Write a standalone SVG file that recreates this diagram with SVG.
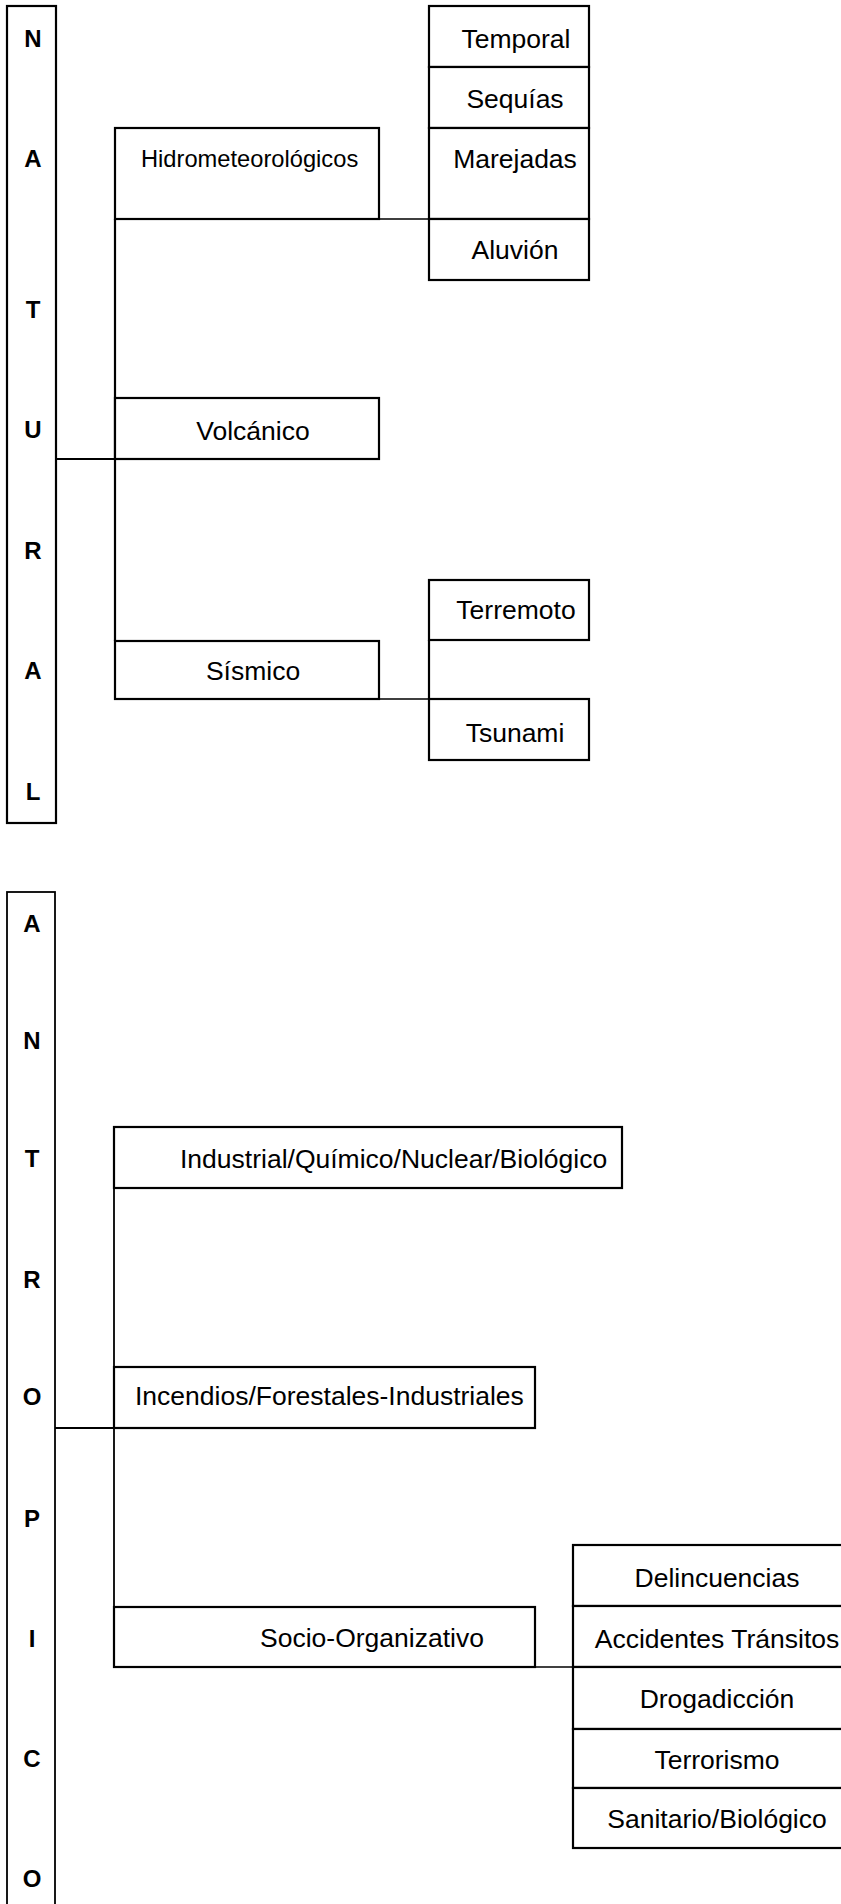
<svg xmlns="http://www.w3.org/2000/svg" width="841" height="1904" viewBox="0 0 841 1904">
<style>
rect{fill:#fff;stroke:#000;stroke-width:2.2}
.c{fill:none;stroke:#000;stroke-width:2.2}
.t{fill:none;stroke:#000;stroke-width:1.3}
.a{fill:none;stroke:#000;stroke-width:1.8}
text{font-family:"Liberation Sans",Arial,sans-serif;font-size:26.5px;fill:#000}
.m{text-anchor:middle}
.b{font-weight:bold;font-size:24px;text-anchor:middle}
.s{font-size:23.7px}
</style>
<rect x="0" y="0" width="841" height="1904" style="fill:#fff;stroke:none"/>
<g id="connectors">
<path class="c" d="M56 459H115M115 219V641"/>
<path class="t" d="M379 219H429M379 699H429"/>
<path class="c" d="M429 640V699"/>
<path class="c" d="M55 1428H114"/>
<path class="a" d="M114 1188V1367M114 1428V1607"/>
<path class="t" d="M535 1667H573"/>
</g>
<g id="natural">
<rect x="7" y="6" width="49" height="817"/>
<text class="b" x="33" y="47">N</text>
<text class="b" x="33" y="167">A</text>
<text class="b" x="33" y="318">T</text>
<text class="b" x="33" y="438">U</text>
<text class="b" x="33" y="559">R</text>
<text class="b" x="33" y="679">A</text>
<text class="b" x="33" y="800">L</text>
</g>
<g id="hidro">
<rect x="115" y="128" width="264" height="91"/>
<text class="s" x="141" y="167">Hidrometeorológicos</text>
</g>
<g id="temporal"><rect x="429" y="6" width="160" height="61"/><text class="m" x="516" y="48">Temporal</text></g>
<g id="sequias"><rect x="429" y="67" width="160" height="61"/><text class="m" x="515" y="108">Sequías</text></g>
<g id="marejadas"><rect x="429" y="128" width="160" height="91"/><text class="m" x="515" y="168">Marejadas</text></g>
<g id="aluvion"><rect x="429" y="219" width="160" height="61"/><text class="m" x="515" y="259">Aluvión</text></g>
<g id="volcanico"><rect x="115" y="398" width="264" height="61"/><text class="m" x="253" y="440">Volcánico</text></g>
<g id="sismico"><rect x="115" y="641" width="264" height="58"/><text class="m" x="253" y="680">Sísmico</text></g>
<g id="terremoto"><rect x="429" y="580" width="160" height="60"/><text class="m" x="516" y="619">Terremoto</text></g>
<g id="tsunami"><rect x="429" y="699" width="160" height="61"/><text class="m" x="515" y="742">Tsunami</text></g>
<g id="antropico">
<rect x="7" y="892" width="48" height="1030" style="stroke-width:1.8"/>
<text class="b" x="32" y="932">A</text>
<text class="b" x="32" y="1049">N</text>
<text class="b" x="32" y="1167">T</text>
<text class="b" x="32" y="1288">R</text>
<text class="b" x="32" y="1405">O</text>
<text class="b" x="32" y="1527">P</text>
<text class="b" x="32" y="1647">I</text>
<text class="b" x="32" y="1767">C</text>
<text class="b" x="32" y="1887">O</text>
</g>
<g id="industrial"><rect x="114" y="1127" width="508" height="61"/><text x="180" y="1168">Industrial/Químico/Nuclear/Biológico</text></g>
<g id="incendios"><rect x="114" y="1367" width="421" height="61"/><text x="135" y="1405">Incendios/Forestales-Industriales</text></g>
<g id="socio"><rect x="114" y="1607" width="421" height="60"/><text class="m" x="372" y="1647">Socio-Organizativo</text></g>
<g id="delincuencias"><rect x="573" y="1545" width="300" height="61"/><text class="m" x="717" y="1587">Delincuencias</text></g>
<g id="accidentes"><rect x="573" y="1606" width="300" height="61"/><text class="m" x="717" y="1648">Accidentes Tránsitos</text></g>
<g id="drogadiccion"><rect x="573" y="1667" width="300" height="62"/><text class="m" x="717" y="1708">Drogadicción</text></g>
<g id="terrorismo"><rect x="573" y="1729" width="300" height="59"/><text class="m" x="717" y="1769">Terrorismo</text></g>
<g id="sanitario"><rect x="573" y="1788" width="300" height="60"/><text class="m" x="717" y="1828">Sanitario/Biológico</text></g>
</svg>
